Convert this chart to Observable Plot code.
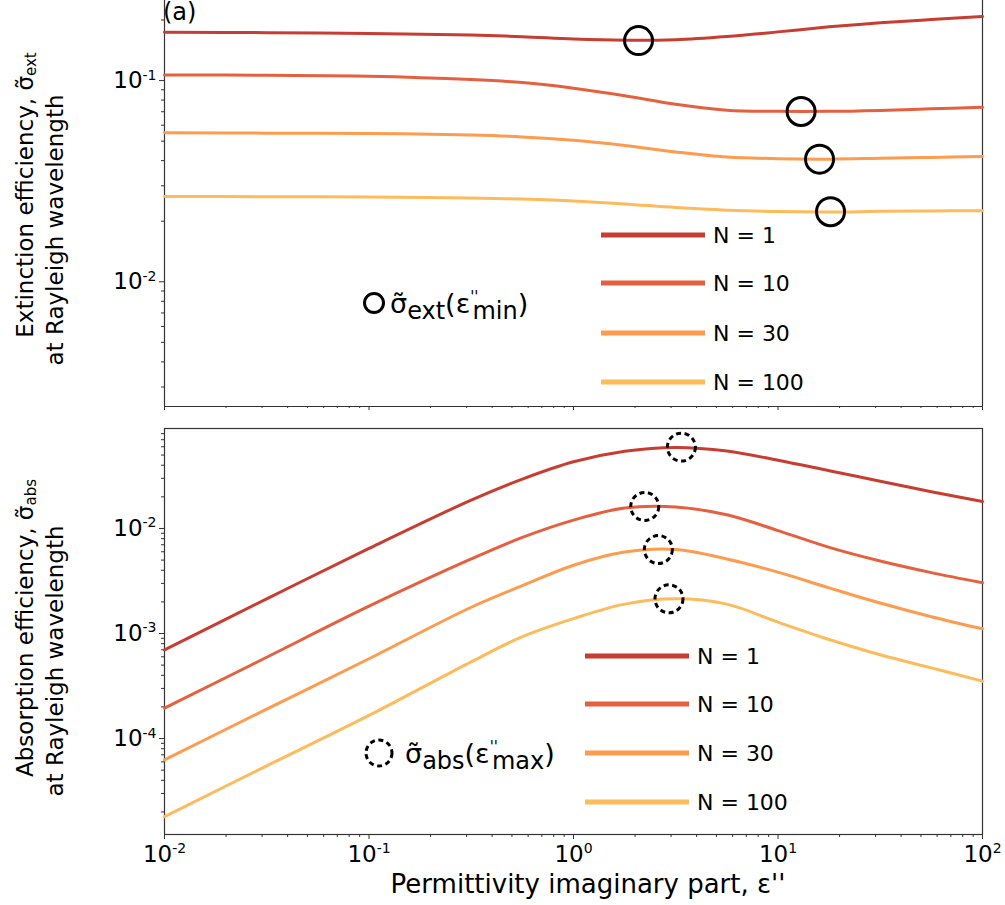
<!DOCTYPE html>
<html><head><meta charset="utf-8">
<script src="https://cdn.jsdelivr.net/npm/d3@7"></script>
<script src="https://cdn.jsdelivr.net/npm/@observablehq/plot@0.6"></script>
<style>
body{margin:0;background:#fff;}
#wrap{position:relative;width:1005px;height:905px;overflow:hidden;font-family:"DejaVu Sans",sans-serif;}
#wrap svg{position:absolute;left:0;}
</style></head><body><div id="wrap"></div>
<script>
// ---- data ----
const eps = [0.01, 0.0316, 0.1, 0.316, 0.562, 1, 1.78, 3.16, 5.62, 10, 17.8, 31.6, 56.2, 100];
const series = ["N = 1", "N = 10", "N = 30", "N = 100"];
const colors = ["#c83d31", "#e5603f", "#fd9b4f", "#fdbb5b"];

const extN1   = [0.1738, 0.1730, 0.1714, 0.1683, 0.1652, 0.1607, 0.1585, 0.1596, 0.1656, 0.1746, 0.1849, 0.1936, 0.2009, 0.2080];
const extN10  = [0.1067, 0.1062, 0.1052, 0.1012, 0.0977, 0.0916, 0.0841, 0.0762, 0.0713, 0.0703, 0.0703, 0.0711, 0.0724, 0.0736];
const extN30  = [0.0550, 0.0548, 0.0546, 0.0536, 0.0525, 0.0505, 0.0476, 0.0442, 0.0417, 0.0409, 0.0407, 0.0411, 0.0415, 0.0419];
const extN100 = [0.02655, 0.02649, 0.02642, 0.02612, 0.02576, 0.02523, 0.02438, 0.02339, 0.02270, 0.02234, 0.02223, 0.02239, 0.02249, 0.02254];

const absN1   = [6.998e-4, 2.138e-3, 6.457e-3, 0.01862, 0.02951, 0.04315, 0.05433, 0.05916, 0.05470, 0.04467, 0.03548, 0.02818, 0.02239, 0.01807];
const absN10  = [1.945e-4, 5.94e-4, 1.820e-3, 5.13e-3, 8.22e-3, 0.01202, 0.01567, 0.01603, 0.01349, 9.55e-3, 6.61e-3, 4.90e-3, 3.80e-3, 3.04e-3];
const absN30  = [6.27e-5, 1.905e-4, 5.75e-4, 1.778e-3, 2.851e-3, 4.467e-3, 5.96e-3, 6.31e-3, 5.13e-3, 3.84e-3, 2.72e-3, 1.95e-3, 1.445e-3, 1.109e-3];
const absN100 = [1.807e-5, 5.50e-5, 1.660e-4, 5.37e-4, 9.33e-4, 1.387e-3, 1.905e-3, 2.138e-3, 1.905e-3, 1.282e-3, 8.77e-4, 6.27e-4, 4.71e-4, 3.52e-4];

const extMinEps = [2.08, 12.97, 15.96, 18.07];
const extMinVal = [0.158, 0.0702, 0.0407, 0.0223];
const absMaxEps = [3.37, 2.23, 2.60, 2.93];
const absMaxVal = [0.0595, 0.0162, 0.0063, 0.00214];

const xTicks = [0.01, 0.1, 1, 10, 100];
const yTicksTop = [0.01, 0.1];
const yTicksBot = [1e-4, 1e-3, 1e-2];

// ---- tidy tables ----
const extSeries = [extN1, extN10, extN30, extN100];
const absSeries = [absN1, absN10, absN30, absN100];
const extRows = extSeries.flatMap((vals, i) => vals.map((v, j) => ({N: series[i], eps: eps[j], v})));
const absRows = absSeries.flatMap((vals, i) => vals.map((v, j) => ({N: series[i], eps: eps[j], v})));
const extMin = extMinEps.map((e, i) => ({eps: e, v: extMinVal[i]}));
const absMax = absMaxEps.map((e, i) => ({eps: e, v: absMaxVal[i]}));

function minors(lo, hi) {
  const out = [];
  for (let p = Math.floor(Math.log10(lo)); p <= Math.ceil(Math.log10(hi)); p++)
    for (let k = 2; k <= 9; k++) { const t = k * Math.pow(10, p); if (t >= lo && t <= hi) out.push(t); }
  return out;
}
const fmt = d => `10|${Math.round(Math.log10(d))}`;
const FONT = "'DejaVu Sans', sans-serif";
const frameColor = "#333";

const yTopDomain = [0.0024, 0.25];
const yBotDomain = [1.22e-5, 0.0895];

const topPlot = Plot.plot({
  width: 1005, height: 420, marginLeft: 164, marginRight: 23, marginTop: 0, marginBottom: 14,
  x: {type: "log", domain: [0.01, 100]},
  y: {type: "log", domain: yTopDomain},
  color: {domain: series, range: colors},
  style: {fontFamily: FONT, fontSize: "23px", background: "transparent", color: "#000"},
  marks: [
    Plot.axisY({ticks: yTicksTop, tickFormat: fmt, tickSize: 5, tickPadding: 3, label: null, stroke: frameColor}),
    Plot.axisY({ticks: minors(...yTopDomain), tickFormat: () => "", tickSize: 3, label: null, stroke: frameColor}),
    Plot.axisX({ticks: xTicks, tickFormat: () => "", tickSize: 4, label: null, stroke: frameColor}),
    Plot.axisX({ticks: minors(0.01, 100), tickFormat: () => "", tickSize: 2, label: null, stroke: frameColor}),
    Plot.ruleX([0.01, 100], {stroke: frameColor, strokeWidth: 1.2}),
    Plot.ruleY([yTopDomain[0]], {stroke: frameColor, strokeWidth: 1.2}),
    Plot.line(extRows, {x: "eps", y: "v", z: "N", stroke: "N", strokeWidth: 3, curve: "catmull-rom"}),
    Plot.dot(extMin, {x: "eps", y: "v", r: 14, stroke: "black", strokeWidth: 3, fill: "none"})
  ]
});

const botPlot = Plot.plot({
  width: 1005, height: 485, marginLeft: 164, marginRight: 23, marginTop: 8, marginBottom: 71,
  x: {type: "log", domain: [0.01, 100]},
  y: {type: "log", domain: yBotDomain},
  color: {domain: series, range: colors},
  style: {fontFamily: FONT, fontSize: "23px", background: "transparent", color: "#000"},
  marks: [
    Plot.axisY({ticks: yTicksBot, tickFormat: fmt, tickSize: 5, tickPadding: 3, label: null, stroke: frameColor}),
    Plot.axisY({ticks: minors(...yBotDomain), tickFormat: () => "", tickSize: 3, label: null, stroke: frameColor}),
    Plot.axisX({ticks: xTicks, tickFormat: fmt, tickSize: 5, tickPadding: 6, label: null, stroke: frameColor}),
    Plot.axisX({ticks: minors(0.01, 100), tickFormat: () => "", tickSize: 3, label: null, stroke: frameColor}),
    Plot.frame({stroke: frameColor, strokeWidth: 1.2}),
    Plot.line(absRows, {x: "eps", y: "v", z: "N", stroke: "N", strokeWidth: 3, curve: "catmull-rom"}),
    Plot.dot(absMax, {x: "eps", y: "v", r: 14, stroke: "black", strokeWidth: 3, fill: "none", strokeDasharray: "5,3.6"})
  ]
});

const wrap = document.getElementById("wrap");
topPlot.style.top = "0px";
botPlot.style.top = "420px";
wrap.appendChild(topPlot);
wrap.appendChild(botPlot);

// superscript exponents in tick labels
for (const svg of [topPlot, botPlot]) {
  d3.select(svg).selectAll("text").each(function () {
    const t = this.textContent;
    if (!t.includes("|")) return;
    const [base, exp] = t.split("|");
    const s = d3.select(this);
    s.text(null);
    s.append("tspan").text(base);
    s.append("tspan").attr("font-size", 14).attr("dy", "-0.6em").text(exp);
  });
}

// overlay: labels and legends
const ov = d3.select(wrap).append("svg").attr("width", 1005).attr("height", 905)
  .style("top", "0px").style("pointer-events", "none")
  .attr("font-family", FONT).attr("fill", "#000");

ov.append("text").attr("x", 163).attr("y", 20).attr("font-size", 24).text("(a)");

function yLabel(cx, cy, parts) {
  const t = ov.append("text").attr("transform", `translate(${cx},${cy}) rotate(-90)`)
    .attr("text-anchor", "middle").attr("font-size", 23);
  for (const p of parts) {
    const ts = t.append("tspan").text(p.t);
    if (p.size) ts.attr("font-size", p.size);
    if (p.dy) ts.attr("dy", p.dy);
  }
}
yLabel(33, 195, [{t: "Extinction efficiency, σ̃"}, {t: "ext", size: 15, dy: 3}]);
yLabel(63, 230, [{t: "at Rayleigh wavelength"}]);
yLabel(33, 628, [{t: "Absorption efficiency, σ̃"}, {t: "abs", size: 15, dy: 3}]);
yLabel(63, 661, [{t: "at Rayleigh wavelength"}]);

ov.append("text").attr("x", 588).attr("y", 893).attr("text-anchor", "middle")
  .attr("font-size", 26).text("Permittivity imaginary part, ε''");

function lineLegend(x0, x1, ys, tx) {
  series.forEach((s, i) => {
    ov.append("line").attr("x1", x0).attr("x2", x1).attr("y1", ys[i]).attr("y2", ys[i])
      .attr("stroke", colors[i]).attr("stroke-width", 5);
    ov.append("text").attr("x", tx).attr("y", ys[i] + 8).attr("font-size", 22).text(s);
  });
}
lineLegend(601, 705, [235, 283, 333, 382], 713);
lineLegend(585, 689, [656, 704, 753, 802], 697);

function sigmaLegend(x, y, sub, subsub) {
  const t = ov.append("text").attr("x", x).attr("y", y).attr("font-size", 27);
  t.append("tspan").text("σ̃");
  t.append("tspan").attr("font-size", 24).attr("dy", 6).text(sub);
  t.append("tspan").attr("dy", -6).text("(ε");
  t.append("tspan").attr("font-size", 15).attr("dy", -11).text("''");
  t.append("tspan").attr("font-size", 24).attr("dy", 17).attr("dx", -6).text(subsub);
  t.append("tspan").attr("dy", -6).text(")");
}
ov.append("circle").attr("cx", 374).attr("cy", 303).attr("r", 9.5)
  .attr("fill", "none").attr("stroke", "black").attr("stroke-width", 3);
sigmaLegend(390, 313, "ext", "min");
ov.append("circle").attr("cx", 379).attr("cy", 753).attr("r", 13)
  .attr("fill", "none").attr("stroke", "black").attr("stroke-width", 3).attr("stroke-dasharray", "5,3.6");
sigmaLegend(405, 763, "abs", "max");
</script></body></html>
